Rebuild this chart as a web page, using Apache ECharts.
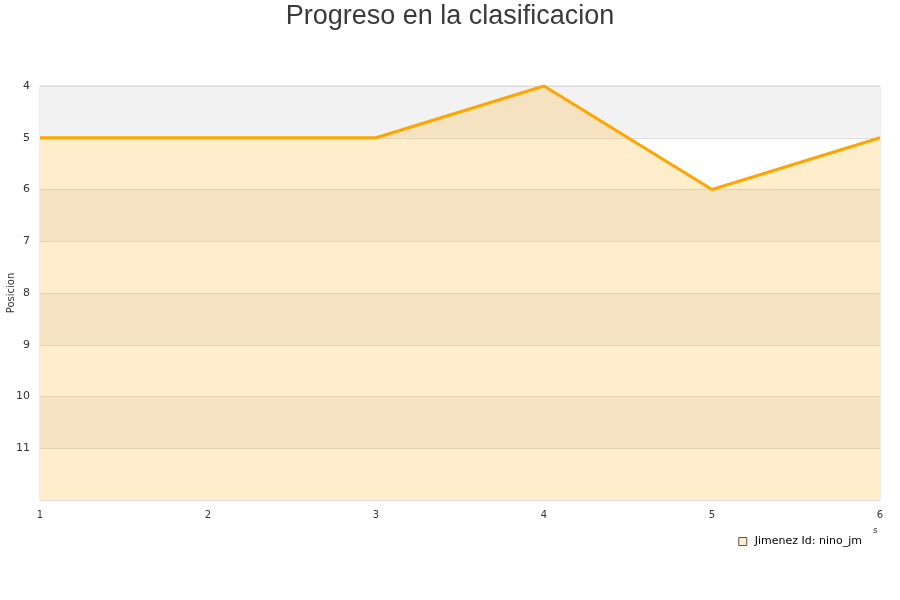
<!DOCTYPE html>
<html><head><meta charset="utf-8">
<script src="https://cdn.jsdelivr.net/npm/echarts@6/dist/echarts.min.js"></script>
<style>html,body{margin:0;padding:0;background:#fff}#c{width:900px;height:600px}</style>
</head><body><div id="c"></div>
<script>
const titleText = 'Progreso en la clasificacion';
const jornadas = ['1','2','3','4','5','6'];
const posiciones = [5, 5, 5, 4, 6, 5];
const seriesName = 'Jimenez Id: nino_jm';
const xAxisName = 's';
const yAxisName = 'Posicion';
const yMin = 4, yMax = 12;

const chart = echarts.init(document.getElementById('c'), null, {renderer:'canvas'});
chart.setOption({
  animation: false,
  backgroundColor: '#fff',
  title: { text: titleText, left: 'center', top: -2,
    textStyle: { fontFamily: 'Liberation Sans', fontSize: 27, fontWeight: 'normal', color: '#3a3a3a' } },
  grid: { left: 40, right: 20, top: 86, bottom: 100, containLabel: false, outerBoundsMode: 'none',
    show: true, borderColor: '#d9d9d9', borderWidth: 1 },
  legend: { right: 33, top: 531, itemWidth: 8, itemHeight: 8, icon: 'rect', itemGap: 6,
    textStyle: { fontFamily: 'DejaVu Sans', fontSize: 11, color: '#000', padding: [0, 0, 0, 3] },
    data: [{ name: seriesName, itemStyle: { color: '#ffedcc', borderColor: '#555', borderWidth: 1 } }] },
  graphic: [
    { type: 'text', left: 873, top: 526,
      style: { text: xAxisName, fontFamily: 'DejaVu Sans', fontSize: 9, fill: '#333' } },
    { type: 'text', x: 11, y: 293, rotation: Math.PI / 2,
      style: { text: yAxisName, fontFamily: 'DejaVu Sans', fontSize: 10, fill: '#333',
        align: 'center', verticalAlign: 'middle' } }
  ],
  xAxis: { type: 'category', data: jornadas, boundaryGap: false,
    axisLine: { show: false }, axisTick: { show: false },
    axisLabel: { fontFamily: 'DejaVu Sans', fontSize: 10, color: '#333', margin: 10 },
    splitLine: { show: false } },
  yAxis: { type: 'value', inverse: true, min: yMin, max: yMax, interval: 1,
    axisLine: { show: false }, axisTick: { show: false },
    axisLabel: { fontFamily: 'DejaVu Sans', fontSize: 11, color: '#333', margin: 10,
      formatter: v => v === yMax ? '' : String(v) },
    splitLine: { show: true, lineStyle: { color: '#dcdcdc', width: 1 } },
    splitArea: { show: true, areaStyle: { color: ['#f2f2f2', '#ffffff'] } } },
  series: [{ name: seriesName, type: 'line', data: posiciones, symbol: 'none',
    lineStyle: { color: '#ffa500', width: 3 }, itemStyle: { color: '#ffa500' },
    areaStyle: { color: 'rgba(255,165,0,0.2)', opacity: 1, origin: 'end' } }]
});
</script></body></html>
